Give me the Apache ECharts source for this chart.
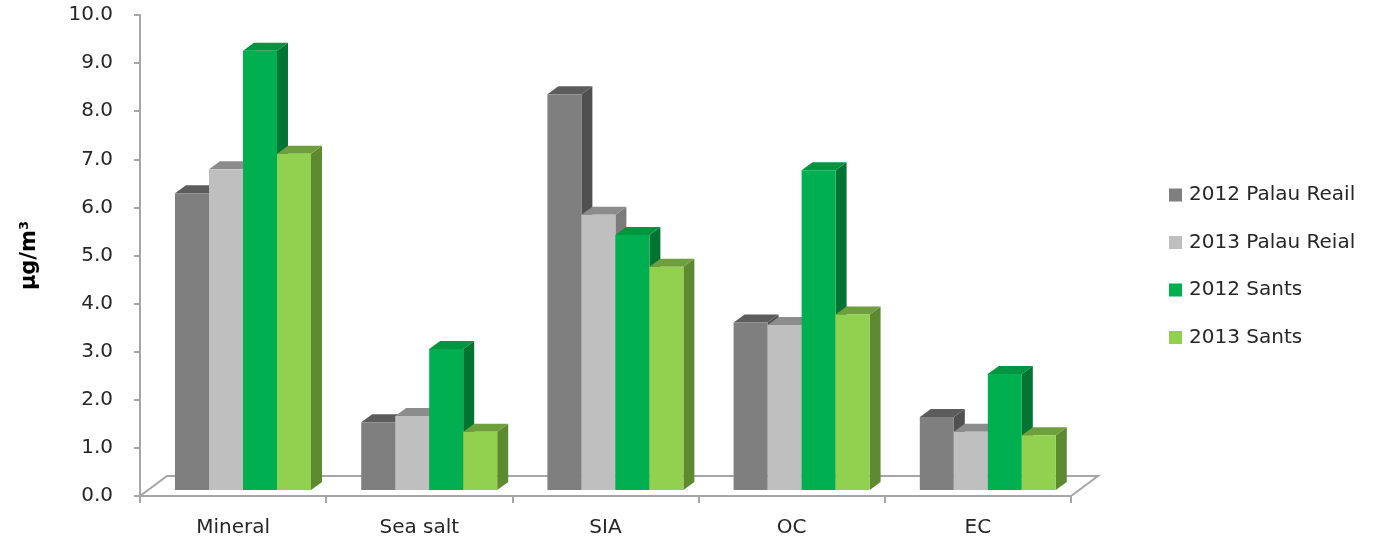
<!DOCTYPE html>
<html><head><meta charset="utf-8">
<script src="https://cdn.jsdelivr.net/npm/echarts@6/dist/echarts.min.js"></script>
<style>html,body{margin:0;padding:0;background:#fff}#c{width:1373px;height:543px}</style>
</head><body><div id="c"></div>
<script>
const categories = ['Mineral', 'Sea salt', 'SIA', 'OC', 'EC'];
const seriesNames = ['2012 Palau Reail', '2013 Palau Reial', '2012 Sants', '2013 Sants'];
const palauReial2012 = [6.17, 1.41, 8.23, 3.48, 1.52];
const palauReial2013 = [6.67, 1.54, 5.72, 3.43, 1.21];
const sants2012 = [9.13, 2.93, 5.30, 6.65, 2.41];
const sants2013 = [6.99, 1.21, 4.64, 3.65, 1.14];
const yMin = 0, yMax = 10, yInterval = 1;

const seriesValues = [palauReial2012, palauReial2013, sants2012, sants2013];
const faces = [
  {front: '#7f7f7f', top: '#5c5c5c', side: '#505050'},
  {front: '#bfbfbf', top: '#8c8c8c', side: '#7b7b7b'},
  {front: '#00b050', top: '#00953f', side: '#007432'},
  {front: '#92d050', top: '#6f9e3c', side: '#5e8a2f'}
];
const FONT = 'DejaVu Sans';
const TXT = '#262626';
const AXC = '#a6a6a6';

function barRenderer(si) {
  return function (params, api) {
    const cat = api.value(0), v = api.value(1);
    const W = api.size([1, 0])[0];
    const c0 = api.coord([cat, 0]);
    const cv = api.coord([cat, v]);
    const bw = 0.1826 * W;
    const left = c0[0] - W / 2 + 0.188 * W + si * bw;
    const lift = 6;
    const dx = 0.059 * W, dy = 8;
    const yb = c0[1] - lift, yt = cv[1] - lift;
    const f = faces[si];
    return {
      type: 'group',
      children: [
        {type: 'polygon', shape: {points: [[left + bw, yb], [left + bw + dx, yb - dy], [left + bw + dx, yt - dy], [left + bw, yt]]}, style: {fill: f.side}},
        {type: 'polygon', shape: {points: [[left, yt], [left + dx, yt - dy], [left + bw + dx, yt - dy], [left + bw, yt]]}, style: {fill: f.top}},
        {type: 'rect', shape: {x: left, y: yt, width: bw, height: yb - yt}, style: {fill: f.front}}
      ]
    };
  };
}

function floorRenderer(params, api) {
  const cs = params.coordSys;
  const x = cs.x, y = cs.y + cs.height, w = cs.width;
  const dx = 27, dy = 20;
  return {
    type: 'polyline',
    shape: {points: [[x, y], [x + dx, y - dy], [x + w + dx, y - dy], [x + w, y]]},
    style: {stroke: AXC, lineWidth: 2, fill: null}
  };
}

const series = [{
  type: 'custom', name: 'floor', silent: true, z: 1,
  data: [[0, 0]], encode: {x: 0, y: 1},
  renderItem: floorRenderer
}];
seriesValues.forEach((vals, si) => {
  series.push({
    type: 'custom', name: seriesNames[si], z: 2 + si,
    itemStyle: {color: faces[si].front},
    data: vals.map((v, i) => [i, v]),
    encode: {x: 0, y: 1},
    renderItem: barRenderer(si)
  });
});

const chart = echarts.init(document.getElementById('c'), null, {renderer: 'canvas'});
chart.setOption({
  animation: false,
  backgroundColor: '#ffffff',
  textStyle: {fontFamily: FONT},
  grid: {left: 140, right: 302, top: 15, bottom: 47, containLabel: false},
  legend: {
    data: seriesNames, orient: 'vertical', left: 1164, top: 180,
    icon: 'rect', itemWidth: 13, itemHeight: 13, itemGap: 27.5,
    textStyle: {fontFamily: FONT, fontSize: 20, lineHeight: 20, color: TXT, padding: [0, 0, 0, 2]}
  },
  xAxis: {
    type: 'category', data: categories, boundaryGap: true,
    axisLine: {show: true, lineStyle: {color: AXC, width: 2}},
    axisTick: {show: true, length: 7, lineStyle: {color: AXC, width: 2}},
    axisLabel: {fontFamily: FONT, fontSize: 20, color: TXT, margin: 22},
    splitLine: {show: false}
  },
  yAxis: {
    type: 'value', min: yMin, max: yMax, interval: yInterval,
    name: 'μg/m³', nameLocation: 'middle', nameGap: 100,
    nameTextStyle: {fontFamily: FONT, fontSize: 21, fontWeight: 'bold', color: '#000'},
    axisLine: {show: true, lineStyle: {color: AXC, width: 2}},
    axisTick: {show: true, length: 6, lineStyle: {color: AXC, width: 2}},
    axisLabel: {fontFamily: FONT, fontSize: 20, color: TXT, margin: 27, formatter: v => v.toFixed(1)},
    splitLine: {show: false}
  },
  series: series
});
</script></body></html>
